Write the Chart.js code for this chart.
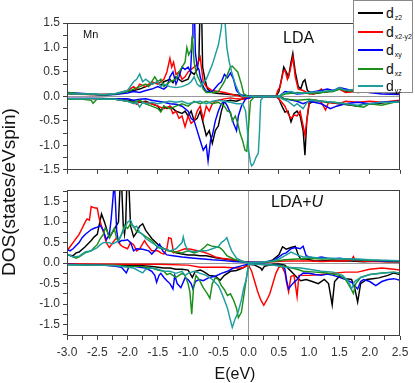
<!DOCTYPE html>
<html><head><meta charset="utf-8">
<script src="https://cdn.jsdelivr.net/npm/chart.js@4"></script>
<style>
body{margin:0;background:#fff;}
#wrap{position:relative;width:415px;height:383px;overflow:hidden;font-family:"Liberation Sans",Arial,sans-serif;color:#111;background:#fff;}
canvas{position:absolute;left:0;}
.t{position:absolute;white-space:nowrap;}
#legend{position:absolute;left:353px;top:0;width:60px;height:93px;border:1px solid #8a8a8a;background:#fff;box-sizing:border-box;}
.li{position:absolute;left:0;width:58px;height:18px;}
.ls{position:absolute;left:4px;width:25px;height:2px;top:8px;}
.lt{position:absolute;left:32px;top:0;font-size:14px;line-height:18px;color:#111;}
.lt span{font-size:7px;position:relative;top:2px;margin-left:1px;}
</style></head>
<body>
<div id="wrap">
<canvas id="c1" width="415" height="180" style="top:0"></canvas>
<canvas id="c2" width="415" height="203" style="top:180px"></canvas>
<div class="t" style="left:83px;top:28.5px;font-size:11px;line-height:11px;">Mn</div>
<div class="t" style="left:283px;top:29.5px;font-size:16px;line-height:16px;">LDA</div>
<div class="t" style="left:271px;top:193.5px;font-size:16px;line-height:16px;">LDA+<i>U</i></div>
<div class="t" style="left:135px;top:365.5px;width:200px;text-align:center;font-size:16px;line-height:16px;">E(eV)</div>
<div class="t" style="left:-91px;top:181px;width:200px;height:22px;text-align:center;font-size:19px;line-height:22px;transform:rotate(-90deg);">DOS(states/eVspin)</div>
<div id="legend"></div>
</div>
<script>
// ---------- data: [E (eV), DOS] ----------
const ldaUpZ2 = [[-3,0.06],[-2.8,0.05],[-2.6,0.04],[-2.4,0.03],[-2.2,0.05],[-2.0,0.1],[-1.9,0.12],[-1.8,0.15],[-1.7,0.2],[-1.6,0.25],[-1.5,0.3],[-1.45,0.22],[-1.4,0.3],[-1.3,0.35],[-1.25,0.28],[-1.2,0.4],[-1.1,0.3],[-1.0,0.35],[-0.95,0.5],[-0.9,0.45],[-0.85,0.55],[-0.82,0.8],[-0.8,2.0],[-0.78,2.0],[-0.76,0.6],[-0.72,0.34],[-0.68,0.15],[-0.6,0.08],[-0.5,0.06],[-0.4,0.05],[-0.3,0.04],[-0.2,0.03],[-0.1,0.02],[0,0.01],[0.1,0],[0.45,0],[0.5,0.1],[0.55,0.4],[0.58,0.6],[0.62,0.5],[0.66,0.4],[0.7,0.7],[0.73,0.88],[0.77,0.5],[0.82,0.2],[0.86,0.15],[0.9,0.3],[0.93,0.34],[0.97,0.12],[1.05,0.05],[1.2,0.08],[1.3,0.1],[1.4,0.12],[1.5,0.15],[1.6,0.1],[1.7,0.12],[1.8,0.08],[2.0,0.1],[2.2,0.08],[2.4,0.07],[2.5,0.06]];
const ldaUpX2 = [[-3,0.05],[-2.6,0.04],[-2.2,0.05],[-2.0,0.12],[-1.9,0.2],[-1.85,0.15],[-1.8,0.25],[-1.7,0.2],[-1.6,0.3],[-1.5,0.25],[-1.4,0.35],[-1.35,0.5],[-1.3,0.78],[-1.27,0.6],[-1.24,0.7],[-1.2,0.45],[-1.15,0.5],[-1.1,0.35],[-1.05,0.4],[-1.0,0.5],[-0.95,0.55],[-0.9,0.6],[-0.85,0.65],[-0.8,0.8],[-0.78,0.6],[-0.75,0.3],[-0.7,0.2],[-0.6,0.12],[-0.5,0.1],[-0.4,0.08],[-0.3,0.05],[-0.2,0.02],[-0.1,-0.02],[0,-0.03],[0.05,0],[0.45,0],[0.48,0.12],[0.52,0.2],[0.57,0.5],[0.6,0.54],[0.64,0.35],[0.68,0.5],[0.73,0.8],[0.77,0.4],[0.82,0.15],[0.9,0.12],[1.0,0.05],[1.1,0.06],[1.2,0.15],[1.25,0.08],[1.4,0.12],[1.5,0.15],[1.6,0.08],[1.8,0.1],[2.0,0.08],[2.3,0.1],[2.5,0.07]];
const ldaUpXY = [[-3,0.08],[-2.6,0.05],[-2.4,0.03],[-2.2,0.04],[-2.0,0.07],[-1.9,0.1],[-1.8,0.08],[-1.7,0.12],[-1.6,0.15],[-1.5,0.2],[-1.4,0.15],[-1.35,0.2],[-1.3,0.4],[-1.25,0.5],[-1.2,0.25],[-1.15,0.4],[-1.1,0.6],[-1.05,0.55],[-1.0,0.6],[-0.96,0.5],[-0.93,1.2],[-0.92,2.0],[-0.9,2.0],[-0.88,0.9],[-0.85,0.6],[-0.82,0.55],[-0.8,0.4],[-0.75,0.2],[-0.7,0.1],[-0.6,0.1],[-0.5,0.25],[-0.45,0.3],[-0.4,0.45],[-0.35,0.38],[-0.3,0.48],[-0.25,0.35],[-0.2,0.12],[-0.15,0.05],[-0.1,0.02],[0,0],[0.5,0],[0.55,0.05],[0.6,0.1],[0.7,0.08],[0.8,0.05],[0.9,0.06],[1.0,0.08],[1.2,0.12],[1.3,0.15],[1.4,0.12],[1.5,0.18],[1.6,0.15],[1.7,0.12],[1.8,0.15],[1.9,0.2],[2.0,0.08],[2.2,0.05],[2.5,0.04]];
const ldaUpXZ = [[-3,0.08],[-2.8,0.06],[-2.6,0.05],[-2.4,0.03],[-2.2,0.05],[-2.0,0.1],[-1.9,0.15],[-1.8,0.2],[-1.7,0.25],[-1.65,0.2],[-1.6,0.3],[-1.55,0.4],[-1.5,0.3],[-1.45,0.35],[-1.4,0.2],[-1.3,0.3],[-1.2,0.35],[-1.15,0.5],[-1.1,0.6],[-1.05,0.7],[-1.02,1.0],[-0.99,0.85],[-0.95,0.95],[-0.93,1.25],[-0.9,0.7],[-0.87,0.5],[-0.84,0.4],[-0.8,0.3],[-0.75,0.15],[-0.7,0.08],[-0.6,0.08],[-0.5,0.1],[-0.45,0.2],[-0.4,0.3],[-0.35,0.45],[-0.3,0.6],[-0.27,0.62],[-0.22,0.55],[-0.18,0.5],[-0.12,0.25],[-0.08,0.05],[0,0],[0.5,0],[0.6,0.05],[0.8,0.08],[1.0,0.06],[1.2,0.08],[1.4,0.1],[1.5,0.15],[1.6,0.12],[1.8,0.1],[2.0,0.1],[2.2,0.12],[2.5,0.1]];
const ldaUpYZ = [[-3,0.05],[-2.6,0.05],[-2.4,0.04],[-2.2,0.06],[-2.0,0.12],[-1.9,0.3],[-1.85,0.35],[-1.8,0.46],[-1.75,0.3],[-1.7,0.35],[-1.6,0.25],[-1.5,0.3],[-1.45,0.2],[-1.4,0.25],[-1.3,0.2],[-1.2,0.18],[-1.1,0.2],[-1.0,0.25],[-0.95,0.3],[-0.9,0.4],[-0.85,0.25],[-0.8,0.2],[-0.7,0.35],[-0.6,0.65],[-0.5,1.05],[-0.45,1.4],[-0.42,2.0],[-0.4,1.7],[-0.36,1.0],[-0.32,0.7],[-0.28,0.5],[-0.22,0.25],[-0.15,0.05],[-0.1,0],[0.5,0],[0.55,0.05],[0.7,0.1],[0.8,0.06],[1.0,0.08],[1.2,0.1],[1.4,0.12],[1.5,0.18],[1.6,0.12],[1.8,0.15],[2.0,0.12],[2.3,0.1],[2.5,0.08]];

const ldaDnZ2 = [[-3,-0.05],[-2.6,-0.04],[-2.4,-0.04],[-2.2,-0.06],[-2.0,-0.08],[-1.9,-0.1],[-1.8,-0.12],[-1.7,-0.1],[-1.6,-0.15],[-1.5,-0.2],[-1.45,-0.3],[-1.4,-0.2],[-1.35,-0.25],[-1.3,-0.2],[-1.2,-0.3],[-1.1,-0.35],[-1.05,-0.3],[-1.0,-0.4],[-0.95,-0.3],[-0.9,-0.5],[-0.85,-0.45],[-0.8,-0.3],[-0.75,-0.55],[-0.7,-0.8],[-0.65,-0.7],[-0.6,-0.96],[-0.55,-0.7],[-0.5,-0.6],[-0.45,-0.3],[-0.4,-0.1],[-0.3,-0.08],[-0.2,-0.1],[-0.1,-0.05],[0,-0.03],[0.1,0],[0.45,0],[0.5,-0.05],[0.55,-0.2],[0.6,-0.32],[0.65,-0.3],[0.7,-0.52],[0.75,-0.35],[0.8,-0.3],[0.85,-0.4],[0.9,-0.7],[0.93,-1.2],[0.96,-0.5],[1.0,-0.15],[1.1,-0.08],[1.2,-0.1],[1.3,-0.12],[1.5,-0.15],[1.7,-0.18],[1.8,-0.2],[1.9,-0.15],[2.1,-0.15],[2.3,-0.12],[2.5,-0.1]];
const ldaDnX2 = [[-3,-0.04],[-2.6,-0.05],[-2.2,-0.06],[-2.0,-0.1],[-1.9,-0.12],[-1.85,-0.16],[-1.8,-0.1],[-1.7,-0.12],[-1.6,-0.15],[-1.5,-0.2],[-1.4,-0.25],[-1.3,-0.2],[-1.25,-0.35],[-1.2,-0.3],[-1.15,-0.45],[-1.1,-0.4],[-1.05,-0.62],[-1.0,-0.4],[-0.95,-0.55],[-0.9,-0.5],[-0.85,-0.3],[-0.8,-0.2],[-0.75,-0.46],[-0.7,-0.2],[-0.65,-0.3],[-0.6,-0.15],[-0.55,-0.1],[-0.5,-0.08],[-0.4,-0.05],[-0.3,-0.03],[-0.2,-0.05],[-0.1,-0.06],[0,-0.04],[0.1,0],[0.45,0],[0.5,-0.05],[0.6,-0.2],[0.65,-0.35],[0.7,-0.45],[0.75,-0.38],[0.8,-0.4],[0.85,-0.3],[0.9,-0.6],[0.93,-0.8],[0.97,-0.4],[1.0,-0.1],[1.1,-0.08],[1.2,-0.12],[1.27,-0.28],[1.32,-0.12],[1.5,-0.15],[1.6,-0.1],[1.8,-0.12],[2.0,-0.1],[2.2,-0.12],[2.5,-0.08]];
const ldaDnXY = [[-3,-0.04],[-2.6,-0.04],[-2.2,-0.05],[-2.0,-0.05],[-1.9,-0.08],[-1.8,-0.06],[-1.7,-0.05],[-1.6,-0.08],[-1.5,-0.1],[-1.4,-0.12],[-1.3,-0.15],[-1.2,-0.16],[-1.1,-0.2],[-1.0,-0.3],[-0.95,-0.45],[-0.9,-0.5],[-0.85,-0.7],[-0.8,-0.9],[-0.75,-1.1],[-0.7,-1.0],[-0.67,-1.32],[-0.63,-0.9],[-0.6,-0.8],[-0.55,-0.5],[-0.5,-0.3],[-0.45,-0.15],[-0.4,-0.1],[-0.35,-0.2],[-0.3,-0.35],[-0.25,-0.55],[-0.2,-0.7],[-0.17,-0.4],[-0.12,-0.2],[-0.05,-0.05],[0.1,0],[0.5,0],[0.6,-0.05],[0.8,-0.1],[0.9,-0.15],[1.0,-0.1],[1.2,-0.15],[1.35,-0.25],[1.45,-0.2],[1.6,-0.15],[1.8,-0.12],[2.0,-0.15],[2.2,-0.12],[2.5,-0.1]];
const ldaDnXZ = [[-3,-0.06],[-2.8,-0.05],[-2.6,-0.08],[-2.57,-0.14],[-2.5,-0.05],[-2.2,-0.06],[-2.0,-0.1],[-1.9,-0.12],[-1.8,-0.08],[-1.7,-0.15],[-1.6,-0.2],[-1.5,-0.25],[-1.45,-0.32],[-1.4,-0.2],[-1.3,-0.25],[-1.2,-0.2],[-1.1,-0.15],[-1.0,-0.2],[-0.9,-0.1],[-0.8,-0.15],[-0.7,-0.1],[-0.6,-0.15],[-0.5,-0.12],[-0.4,-0.2],[-0.35,-0.3],[-0.3,-0.32],[-0.27,-0.5],[-0.22,-0.4],[-0.18,-0.55],[-0.14,-0.76],[-0.1,-0.9],[-0.06,-1.1],[-0.03,-1.12],[0,-0.6],[0.03,-0.1],[0.1,0],[0.5,0],[0.6,-0.05],[0.8,-0.08],[1.0,-0.06],[1.2,-0.1],[1.4,-0.12],[1.6,-0.15],[1.8,-0.2],[1.9,-0.22],[2.0,-0.15],[2.2,-0.18],[2.4,-0.12],[2.5,-0.1]];
const ldaDnYZ = [[-3,-0.05],[-2.6,-0.05],[-2.2,-0.06],[-2.0,-0.1],[-1.9,-0.15],[-1.85,-0.12],[-1.8,-0.22],[-1.75,-0.12],[-1.7,-0.15],[-1.6,-0.12],[-1.5,-0.15],[-1.4,-0.12],[-1.3,-0.1],[-1.2,-0.12],[-1.1,-0.1],[-1.0,-0.15],[-0.9,-0.12],[-0.8,-0.1],[-0.7,-0.15],[-0.6,-0.1],[-0.5,-0.08],[-0.4,-0.1],[-0.3,-0.12],[-0.2,-0.15],[-0.1,-0.15],[-0.05,-0.3],[-0.02,-0.7],[0,-1.1],[0.03,-1.35],[0.05,-1.42],[0.08,-1.38],[0.12,-1.25],[0.16,-1.16],[0.18,-0.7],[0.2,-0.08],[0.25,0],[0.5,0],[0.55,-0.05],[0.65,-0.1],[0.75,-0.2],[0.8,-0.15],[0.9,-0.25],[0.95,-0.15],[1.0,-0.08],[1.2,-0.1],[1.4,-0.12],[1.6,-0.15],[1.8,-0.18],[2.0,-0.15],[2.2,-0.12],[2.5,-0.12]];

const uUpZ2 = [[-3,0.2],[-2.9,0.18],[-2.85,0.25],[-2.8,0.27],[-2.7,0.4],[-2.6,0.55],[-2.55,0.64],[-2.5,0.7],[-2.43,1.2],[-2.38,1.0],[-2.35,0.85],[-2.3,0.62],[-2.25,0.75],[-2.2,0.87],[-2.15,1.0],[-2.12,2.0],[-2.1,2.0],[-2.07,0.9],[-2.05,0.7],[-2.03,1.0],[-2.01,2.0],[-1.98,2.0],[-1.95,0.9],[-1.9,0.64],[-1.85,0.75],[-1.8,0.9],[-1.75,0.96],[-1.7,0.8],[-1.65,0.7],[-1.6,0.6],[-1.5,0.46],[-1.4,0.35],[-1.3,0.3],[-1.2,0.25],[-1.1,0.22],[-1.0,0.2],[-0.9,0.2],[-0.8,0.18],[-0.7,0.18],[-0.6,0.15],[-0.5,0.12],[-0.4,0.1],[-0.3,0.08],[-0.2,0.06],[-0.1,0.04],[0,0.02],[0.1,0],[0.3,0.02],[0.4,0.08],[0.5,0.2],[0.56,0.4],[0.62,0.34],[0.7,0.38],[0.77,0.41],[0.82,0.2],[0.86,0.1],[0.95,0.1],[1.1,0.05],[1.3,0.06],[1.5,0.05],[1.7,0.05],[1.9,0.03],[2.1,0.05],[2.3,0.03],[2.5,0.03]];
const uUpX2 = [[-3,0.3],[-2.95,0.4],[-2.9,0.5],[-2.85,0.6],[-2.8,0.7],[-2.75,0.85],[-2.7,1.0],[-2.67,1.08],[-2.63,1.05],[-2.6,1.38],[-2.55,1.35],[-2.5,1.34],[-2.47,1.1],[-2.43,0.9],[-2.4,0.76],[-2.35,0.5],[-2.3,0.38],[-2.22,0.55],[-2.18,0.62],[-2.12,0.45],[-2.08,0.4],[-2.0,0.35],[-1.95,0.5],[-1.9,0.45],[-1.85,0.3],[-1.8,0.35],[-1.72,0.55],[-1.68,0.45],[-1.6,0.3],[-1.5,0.3],[-1.45,0.25],[-1.4,0.22],[-1.35,0.35],[-1.32,0.62],[-1.28,0.6],[-1.24,0.25],[-1.15,0.3],[-1.05,0.35],[-0.95,0.34],[-0.85,0.3],[-0.75,0.27],[-0.65,0.22],[-0.55,0.15],[-0.45,0.12],[-0.35,0.1],[-0.25,0.08],[-0.15,0.05],[0,0.02],[0.2,0.02],[0.4,0.03],[0.6,0.05],[0.8,0.05],[1.0,0.05],[1.2,0.04],[1.4,0.05],[1.6,0.05],[1.7,0.08],[1.73,0.16],[1.76,0.06],[2.0,0.04],[2.5,0.03]];
const uUpXY = [[-3,0.34],[-2.95,0.3],[-2.9,0.35],[-2.8,0.5],[-2.75,0.62],[-2.7,0.7],[-2.6,0.82],[-2.55,0.85],[-2.5,0.88],[-2.45,0.92],[-2.4,0.8],[-2.35,0.57],[-2.3,0.7],[-2.27,1.08],[-2.24,1.6],[-2.22,2.0],[-2.2,1.5],[-2.18,0.8],[-2.15,0.5],[-2.1,0.55],[-2.05,0.55],[-2.0,0.57],[-1.95,0.5],[-1.9,0.3],[-1.85,0.35],[-1.75,0.34],[-1.65,0.3],[-1.6,0.22],[-1.55,0.3],[-1.5,0.4],[-1.47,0.46],[-1.42,0.3],[-1.35,0.2],[-1.25,0.18],[-1.1,0.15],[-0.9,0.12],[-0.75,0.1],[-0.6,0.08],[-0.4,0.06],[-0.25,0.04],[0,0.02],[0.2,0.02],[0.4,0.05],[0.5,0.15],[0.56,0.22],[0.62,0.25],[0.7,0.35],[0.77,0.38],[0.85,0.35],[0.9,0.41],[0.95,0.18],[1.0,0.15],[1.1,0.12],[1.2,0.15],[1.3,0.12],[1.4,0.1],[1.5,0.12],[1.6,0.1],[1.8,0.08],[2.0,0.06],[2.2,0.05],[2.5,0.04]];
const uUpXZ = [[-3,0.22],[-2.9,0.15],[-2.85,0.12],[-2.8,0.15],[-2.7,0.25],[-2.6,0.3],[-2.55,0.38],[-2.5,0.45],[-2.45,0.6],[-2.4,0.7],[-2.37,0.85],[-2.34,0.8],[-2.3,0.62],[-2.27,0.7],[-2.22,0.85],[-2.18,0.6],[-2.15,0.53],[-2.1,0.7],[-2.05,0.92],[-2.0,0.85],[-1.95,0.96],[-1.9,0.9],[-1.85,0.77],[-1.8,0.75],[-1.75,0.7],[-1.7,0.65],[-1.6,0.55],[-1.5,0.38],[-1.4,0.35],[-1.33,0.3],[-1.2,0.27],[-1.1,0.25],[-1.0,0.3],[-0.9,0.25],[-0.8,0.3],[-0.72,0.4],[-0.68,0.46],[-0.62,0.42],[-0.55,0.4],[-0.48,0.38],[-0.42,0.3],[-0.36,0.18],[-0.25,0.1],[-0.1,0.03],[0,0.01],[0.2,0.02],[0.4,0.04],[0.6,0.08],[0.8,0.1],[1.0,0.12],[1.2,0.1],[1.4,0.1],[1.6,0.1],[1.8,0.08],[2.0,0.07],[2.2,0.06],[2.5,0.05]];
const uUpYZ = [[-3,0.22],[-2.9,0.15],[-2.8,0.17],[-2.7,0.27],[-2.6,0.3],[-2.5,0.38],[-2.45,0.45],[-2.4,0.5],[-2.3,0.5],[-2.25,0.47],[-2.2,0.5],[-2.15,0.55],[-2.1,0.7],[-2.05,0.85],[-2.0,1.0],[-1.95,1.05],[-1.9,0.87],[-1.85,0.9],[-1.8,0.75],[-1.75,0.7],[-1.7,0.6],[-1.6,0.5],[-1.5,0.41],[-1.4,0.35],[-1.3,0.3],[-1.2,0.35],[-1.1,0.5],[-1.08,0.64],[-1.05,0.45],[-1.0,0.3],[-0.9,0.28],[-0.8,0.3],[-0.7,0.3],[-0.6,0.35],[-0.5,0.4],[-0.45,0.5],[-0.39,0.57],[-0.36,0.62],[-0.32,0.45],[-0.28,0.3],[-0.2,0.12],[-0.1,0.04],[0,0.01],[0.2,0.02],[0.4,0.05],[0.5,0.1],[0.6,0.18],[0.7,0.27],[0.8,0.2],[0.9,0.15],[1.0,0.15],[1.2,0.12],[1.4,0.12],[1.6,0.1],[1.8,0.1],[2.0,0.08],[2.5,0.06]];

const uDnZ2 = [[-3,-0.03],[-2.5,-0.04],[-2.2,-0.05],[-2.0,-0.06],[-1.8,-0.06],[-1.6,-0.08],[-1.5,-0.1],[-1.4,-0.12],[-1.3,-0.12],[-1.2,-0.15],[-1.1,-0.15],[-1.0,-0.17],[-0.93,-0.35],[-0.88,-0.2],[-0.8,-0.17],[-0.75,-0.2],[-0.65,-0.3],[-0.55,-0.32],[-0.47,-0.42],[-0.4,-0.3],[-0.3,-0.2],[-0.2,-0.18],[-0.1,-0.12],[0,-0.03],[0.1,-0.05],[0.2,-0.12],[0.22,-0.17],[0.26,-0.08],[0.4,-0.03],[0.5,-0.02],[0.6,-0.05],[0.7,-0.2],[0.8,-0.35],[0.86,-0.43],[0.95,-0.4],[1.05,-0.45],[1.15,-0.5],[1.25,-0.4],[1.32,-0.5],[1.38,-1.02],[1.42,-0.45],[1.5,-0.32],[1.6,-0.38],[1.7,-0.4],[1.75,-0.6],[1.8,-0.95],[1.85,-0.5],[1.95,-0.4],[2.05,-0.38],[2.15,-0.36],[2.3,-0.3],[2.4,-0.24],[2.5,-0.28]];
const uDnX2 = [[-3,-0.02],[-2.0,-0.03],[-1.5,-0.03],[-1.0,-0.05],[-0.8,-0.1],[-0.6,-0.1],[-0.4,-0.1],[-0.2,-0.12],[-0.1,-0.12],[0,-0.05],[0.05,-0.2],[0.1,-0.45],[0.15,-0.7],[0.2,-0.9],[0.25,-1.03],[0.3,-0.9],[0.35,-0.75],[0.4,-0.5],[0.45,-0.25],[0.5,-0.1],[0.55,-0.08],[0.6,-0.24],[0.63,-0.5],[0.66,-0.7],[0.7,-0.32],[0.75,-0.3],[0.8,-0.82],[0.83,-0.3],[0.9,-0.3],[1.0,-0.3],[1.2,-0.28],[1.4,-0.25],[1.6,-0.22],[1.8,-0.22],[2.0,-0.15],[2.2,-0.12],[2.4,-0.15],[2.5,-0.17]];
const uDnXY = [[-3,-0.03],[-2.8,-0.04],[-2.6,-0.05],[-2.4,-0.05],[-2.2,-0.08],[-2.1,-0.1],[-2.02,-0.24],[-1.98,-0.1],[-1.9,-0.08],[-1.8,-0.1],[-1.7,-0.12],[-1.6,-0.2],[-1.55,-0.3],[-1.52,-0.47],[-1.48,-0.3],[-1.45,-0.25],[-1.4,-0.35],[-1.35,-0.43],[-1.3,-0.5],[-1.25,-0.63],[-1.22,-0.3],[-1.18,-0.5],[-1.12,-0.6],[-1.05,-0.36],[-1.0,-0.4],[-0.95,-0.5],[-0.92,-0.63],[-0.88,-0.45],[-0.82,-0.4],[-0.75,-0.43],[-0.65,-0.35],[-0.55,-0.32],[-0.45,-0.25],[-0.35,-0.2],[-0.25,-0.12],[-0.15,-0.08],[0,-0.02],[0.2,-0.03],[0.4,-0.04],[0.55,-0.05],[0.6,-0.15],[0.63,-0.45],[0.66,-0.63],[0.7,-0.55],[0.75,-0.47],[0.8,-0.4],[0.85,-0.3],[0.9,-0.24],[1.0,-0.25],[1.1,-0.28],[1.2,-0.3],[1.3,-0.27],[1.4,-0.3],[1.5,-0.35],[1.6,-0.4],[1.7,-0.47],[1.8,-0.63],[1.85,-0.45],[1.9,-0.4],[2.0,-0.45],[2.1,-0.55],[2.2,-0.45],[2.3,-0.4],[2.4,-0.38],[2.5,-0.42]];
const uDnXZ = [[-3,-0.04],[-2.6,-0.05],[-2.2,-0.06],[-2.0,-0.08],[-1.8,-0.08],[-1.6,-0.12],[-1.5,-0.17],[-1.4,-0.2],[-1.35,-0.28],[-1.3,-0.25],[-1.25,-0.3],[-1.2,-0.35],[-1.15,-0.3],[-1.1,-0.25],[-1.05,-0.3],[-1.0,-0.5],[-0.97,-0.71],[-0.94,-1.25],[-0.91,-0.6],[-0.87,-0.3],[-0.82,-0.4],[-0.75,-0.6],[-0.68,-0.75],[-0.64,-0.86],[-0.6,-0.5],[-0.55,-0.36],[-0.5,-0.4],[-0.45,-0.55],[-0.4,-0.65],[-0.35,-0.79],[-0.3,-0.75],[-0.25,-0.9],[-0.2,-1.1],[-0.17,-1.33],[-0.12,-1.2],[-0.08,-0.8],[-0.04,-0.4],[0,-0.02],[0.1,-0.03],[0.3,-0.04],[0.5,-0.05],[0.6,-0.08],[0.8,-0.15],[0.9,-0.2],[1.1,-0.22],[1.3,-0.24],[1.5,-0.3],[1.6,-0.4],[1.68,-0.6],[1.73,-0.74],[1.77,-0.5],[1.85,-0.35],[2.0,-0.28],[2.2,-0.24],[2.4,-0.22],[2.5,-0.25]];
const uDnYZ = [[-3,-0.04],[-2.6,-0.05],[-2.2,-0.06],[-2.0,-0.1],[-1.9,-0.12],[-1.8,-0.2],[-1.75,-0.24],[-1.7,-0.15],[-1.6,-0.12],[-1.5,-0.15],[-1.4,-0.2],[-1.3,-0.2],[-1.2,-0.25],[-1.1,-0.2],[-1.05,-0.3],[-1.0,-0.25],[-0.9,-0.2],[-0.8,-0.25],[-0.7,-0.3],[-0.6,-0.4],[-0.5,-0.55],[-0.45,-0.71],[-0.4,-0.9],[-0.35,-1.1],[-0.3,-1.4],[-0.27,-1.57],[-0.22,-1.35],[-0.17,-1.18],[-0.12,-0.9],[-0.08,-0.6],[-0.04,-0.4],[0,-0.02],[0.2,-0.03],[0.4,-0.05],[0.6,-0.1],[0.86,-0.12],[1.0,-0.15],[1.2,-0.2],[1.4,-0.22],[1.55,-0.3],[1.65,-0.45],[1.7,-0.63],[1.75,-0.45],[1.85,-0.35],[2.0,-0.28],[2.2,-0.25],[2.4,-0.22],[2.5,-0.25]];

const orbitalNames = [['z2'],['x2-y2'],['xy'],['xz'],['yz']];
const xTicksTop = [-3,-2.5,-2,-1.5,-1,-0.5,0,0.5,1,1.5,2,2.5];
const xTicksBottom = [-3,-2.75,-2.5,-2.25,-2,-1.75,-1.5,-1.25,-1,-0.75,-0.5,-0.25,0,0.25,0.5,0.75,1,1.25,1.5,1.75,2,2.25,2.5];
const yTicksTop = [-1.5,-1.25,-1,-0.75,-0.5,-0.25,0,0.25,0.5,0.75,1,1.25,1.5];
const yTicksBottom = [-1.75,-1.5,-1.25,-1,-0.75,-0.5,-0.25,0,0.25,0.5,0.75,1,1.25,1.5,1.75];

// ---------- styling ----------
const COLORS = ['#000000','#ff0000','#0000ff','#1a8f1a','#1d9d9d'];
const FONT = '"Liberation Sans", Arial, sans-serif';
const AXIS = '#404040';

const frame = {id:'frame', afterDatasetsDraw(c){
  const a=c.chartArea, x=c.ctx; x.save(); x.strokeStyle=AXIS; x.lineWidth=1;
  x.strokeRect(Math.round(a.left)+0.5, Math.round(a.top)+0.5, Math.round(a.right-a.left)-1, Math.round(a.bottom-a.top)-1);
  x.restore();
}};
const lbl = v => (Math.abs(v*2-Math.round(v*2))<1e-6 ? v.toFixed(1) : '');
const pts = a => a.map(p=>({x:p[0],y:p[1]}));

function makeChart(id, up, dn, yMin, yMax, yTicks, xTicks, showX, xH, padTop){
  const ds=[];
  for(let i=4;i>=0;i--){
    ds.push({data:pts(up[i]),borderColor:COLORS[i],borderWidth:1.45,pointRadius:0,tension:0,fill:false});
    ds.push({data:pts(dn[i]),borderColor:COLORS[i],borderWidth:1.45,pointRadius:0,tension:0,fill:false});
  }
  const gridC = c => (c.tick && c.tick.value===0 ? '#9a9a9a' : 'rgba(0,0,0,0)');
  return new Chart(document.getElementById(id), {
    type:'line', data:{datasets:ds},
    options:{responsive:false, animation:false, events:[],
      layout:{padding:{top:padTop,right:15,left:0,bottom:0}},
      plugins:{legend:{display:false},tooltip:{enabled:false}},
      scales:{
        x:{type:'linear',min:-3,max:2.5,
          afterBuildTicks:s=>{s.ticks=xTicks.map(v=>({value:v}));},
          afterFit:s=>{s.height=xH;},
          border:{display:false},
          grid:{color:gridC,lineWidth:1,tickColor:AXIS,tickLength:4,drawTicks:true},
          ticks:{display:showX,callback:lbl,autoSkip:false,maxRotation:0,minRotation:0,color:'#333',font:{family:FONT,size:12},padding:5}},
        y:{type:'linear',min:yMin,max:yMax,
          afterBuildTicks:s=>{s.ticks=yTicks.map(v=>({value:v}));},
          afterFit:s=>{s.width=67;},
          border:{display:false},
          grid:{color:gridC,lineWidth:1,tickColor:AXIS,tickLength:4,drawTicks:true},
          ticks:{callback:lbl,autoSkip:false,color:'#333',font:{family:FONT,size:12},padding:3}}
      }},
    plugins:[frame]
  });
}
makeChart('c1',[ldaUpZ2,ldaUpX2,ldaUpXY,ldaUpXZ,ldaUpYZ],[ldaDnZ2,ldaDnX2,ldaDnXY,ldaDnXZ,ldaDnYZ],-1.5,1.5,yTicksTop,xTicksTop,false,8,23);
makeChart('c2',[uUpZ2,uUpX2,uUpXY,uUpXZ,uUpYZ],[uDnZ2,uDnX2,uDnXY,uDnXZ,uDnYZ],-1.78,1.78,yTicksBottom,xTicksBottom,true,47,3);

// legend
const lg=document.getElementById('legend');
const centers=[13,32,50,69,86];
orbitalNames.forEach((n,i)=>{
  const d=document.createElement('div'); d.className='li'; d.style.top=(centers[i]-9-1)+'px';
  d.innerHTML='<div class="ls" style="background:'+COLORS[i]+'"></div><div class="lt">d<span>'+n[0]+'</span></div>';
  lg.appendChild(d);
});
</script>
</body></html>
